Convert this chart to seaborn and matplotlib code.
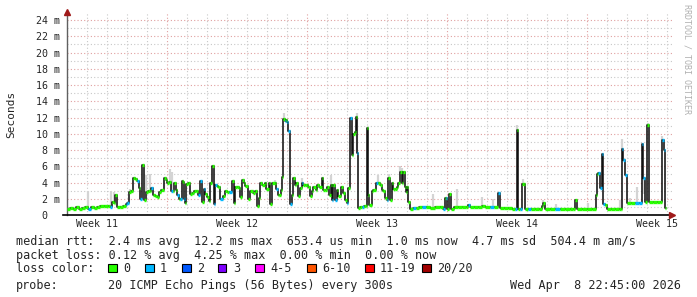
import numpy as np
import pandas as pd
import matplotlib
matplotlib.use("Agg")
import matplotlib.pyplot as plt
from matplotlib.patches import Rectangle
import seaborn as sns

# ---------------- data ----------------
# time in days since graph start, median rtt in ms
t_days = [
    0.00, 0.15, 0.30, 0.45, 0.60, 0.75, 0.90, 1.05, 1.20, 1.35, 1.50, 1.65, 1.85, 2.05, 2.15, 2.25, 2.35, 2.40, 2.50, 2.65, 2.80, 2.95, 3.00,
    3.10, 3.20, 3.30, 3.40, 3.50, 3.60, 3.65, 3.75, 3.85, 3.95, 4.05, 4.15, 4.20, 4.30, 4.40, 4.50, 4.60, 4.70, 4.85, 4.95, 5.00,
    5.10, 5.20, 5.30, 5.35, 5.45, 5.50, 5.60, 5.65, 5.75, 5.80, 5.85, 5.90, 5.95, 6.05, 6.15, 6.25, 6.35, 6.45, 6.55, 6.65, 6.75, 6.85, 6.90, 7.00,
    7.10, 7.15, 7.25, 7.35, 7.40, 7.50, 7.55, 7.65, 7.80, 7.90, 8.00, 8.10, 8.25, 8.35, 8.40, 8.50, 8.60, 8.65, 8.75, 8.85, 8.90,
    9.05, 9.15, 9.30, 9.40, 9.50, 9.60, 9.65, 9.75, 9.90, 9.95, 10.10, 10.15, 10.25, 10.40, 10.45, 10.55, 10.60, 10.70, 10.75, 10.80, 10.90, 10.95, 11.00, 11.05,
    11.15, 11.25, 11.30, 11.40, 11.45, 11.55, 11.65, 11.75, 11.80, 11.90, 12.00, 12.05, 12.15, 12.25, 12.30, 12.45, 12.50, 12.60, 12.75, 12.80, 12.90, 13.00,
    13.10, 13.20, 13.25, 13.30, 13.40, 13.50, 13.55, 13.70, 13.80, 13.90, 14.00, 14.05, 14.15, 14.25, 14.30, 14.40, 14.45, 14.50, 14.55, 14.65, 14.75, 14.85, 14.95, 15.00,
    15.05, 15.10, 15.25, 15.30, 15.45, 15.55, 15.65, 15.75, 15.80, 15.90, 16.00, 16.05, 16.15, 16.25, 16.30, 16.40, 16.50, 16.55, 16.65, 16.75, 16.80, 16.90, 16.95, 17.00,
    17.05, 17.15, 17.30, 17.45, 17.60, 17.75, 17.95, 18.15, 18.40, 18.65, 18.80, 18.90, 18.95, 19.00, 19.10, 19.20, 19.35, 19.55, 19.75, 19.95, 20.05, 20.15, 20.35, 20.55, 20.75, 20.90, 21.15, 21.35, 21.55, 21.65,
    21.85, 22.05, 22.25, 22.40, 22.50, 22.55, 22.65, 22.75, 22.85, 22.90, 23.05, 23.20, 23.40, 23.60, 23.75, 23.80, 23.90, 24.15, 24.40, 24.65, 24.90, 25.15, 25.30, 25.40, 25.50, 25.75, 26.00,
    26.25, 26.45, 26.50, 26.55, 26.65, 26.75, 26.80, 26.90, 27.00, 27.20, 27.40, 27.60, 27.70, 27.75, 27.80, 27.90, 28.00, 28.20, 28.40, 28.60, 28.75, 28.80, 28.90, 29.00, 29.10, 29.30, 29.50, 29.65, 29.75, 29.85, 29.90,
]
rtt_ms = [
    0.8, 0.9, 0.8, 1.0, 0.8, 0.9, 1.0, 0.8, 1.0, 0.9, 1.0, 1.1, 1.1, 1.1, 1.0, 1.6, 1.5, 2.5, 1.0, 1.0, 1.1, 1.3, 1.5,
    2.8, 2.9, 4.6, 4.4, 4.2, 3.3, 2.0, 6.2, 1.85, 2.8, 3.0, 2.9, 3.3, 2.5, 2.3, 2.2, 2.8, 3.1, 4.5, 4.3, 3.9,
    4.1, 2.9, 3.0, 3.9, 3.1, 2.5, 2.0, 2.0, 4.2, 4.1, 2.0, 1.5, 3.8, 4.0, 2.6, 2.7, 3.0, 3.0, 2.5, 4.2, 1.6, 3.2, 2.6, 2.2,
    1.7, 3.9, 6.0, 1.4, 3.7, 3.6, 3.5, 2.0, 2.3, 3.0, 2.8, 2.8, 4.2, 1.5, 3.4, 3.4, 3.3, 2.2, 4.3, 4.0, 3.6,
    2.0, 3.0, 2.7, 2.9, 1.1, 2.1, 3.9, 3.7, 3.9, 3.2, 3.9, 1.4, 3.9, 3.9, 3.2, 2.5, 2.5, 3.1, 4.7, 11.8, 11.6, 11.7, 11.5, 10.3,
    1.4, 2.5, 4.5, 3.7, 4.0, 2.3, 3.3, 3.9, 3.7, 3.7, 3.7, 3.5, 2.3, 2.9, 3.5, 3.1, 3.7, 3.5, 4.5, 3.1, 3.1, 3.4,
    2.5, 3.7, 1.9, 3.7, 1.9, 3.1, 2.3, 3.4, 2.7, 1.8, 1.5, 3.3, 11.9, 7.4, 10.0, 10.2, 12.1, 7.6, 0.85, 1.0, 1.0, 1.05, 1.05, 10.7,
    2.5, 1.2, 2.9, 3.1, 4.0, 3.9, 3.7, 3.1, 2.9, 2.1, 1.9, 4.5, 1.9, 3.9, 3.2, 3.2, 3.4, 3.9, 5.3, 3.9, 5.3, 3.5, 2.8, 3.4,
    1.6, 0.8, 0.9, 0.9, 1.0, 1.0, 1.0, 0.9, 1.0, 1.0, 0.8, 2.05, 2.05, 0.7, 2.6, 0.8, 1.0, 1.0, 1.0, 1.0, 1.2, 1.0, 1.0, 1.0, 1.1, 1.0, 1.0, 1.0, 2.7, 0.9,
    0.9, 0.9, 0.8, 0.8, 10.5, 0.8, 0.7, 3.8, 3.8, 0.8, 0.8, 0.8, 0.8, 0.8, 1.1, 1.5, 0.8, 0.8, 0.8, 0.8, 0.8, 0.8, 0.8, 1.9, 0.8, 0.8, 0.8,
    0.8, 2.5, 5.1, 5.2, 3.3, 7.5, 1.3, 1.2, 0.7, 0.7, 0.7, 0.7, 0.8, 8.1, 6.8, 4.9, 1.5, 1.5, 1.5, 1.5, 8.8, 4.5, 1.6, 11.1, 1.6, 1.6, 1.6, 1.6, 9.2, 8.0, 0.9,
]
# times (days) where one of the 20 pings was lost
loss1_days = [1.05, 2.15, 2.95, 3.00, 3.50, 3.65, 4.20, 5.20, 5.50, 5.65, 5.85, 6.55, 6.65,
              6.85, 7.35, 7.40, 7.65, 8.10, 10.45, 10.90, 11.00, 11.05, 11.15, 11.75, 13.25,
              13.40, 14.00, 14.15, 14.50, 14.75, 15.45, 16.00, 17.30, 17.75, 18.80, 18.95,
              20.05, 21.15, 21.55, 22.40, 22.65, 23.05, 24.40, 26.55, 26.65, 26.75, 26.80,
              27.75, 27.80, 27.90, 28.40, 28.60, 28.75, 28.80, 29.75, 29.85]
# "smoke" (spread of the pings) – visible upper ends
smoke_days = [1.05, 2.20, 2.35, 3.15, 3.95, 4.15, 5.15, 5.25, 10.40, 10.85, 11.75, 13.20,
              14.50, 15.55, 16.10, 16.65, 16.75, 18.30, 19.50, 20.75, 21.30, 22.50, 22.80,
              23.80, 24.45, 26.05, 27.65, 27.75, 28.15, 28.50, 28.85, 29.05, 29.75]
smoke_top_ms = [2.9, 3.0, 2.8, 3.2, 4.9, 5.0, 5.7, 5.3, 4.3, 12.6, 4.6, 4.9,
                12.6, 4.9, 5.0, 6.0, 5.8, 2.6, 3.2, 2.2, 2.0, 11.1, 4.4,
                1.9, 1.4, 1.5, 1.8, 9.4, 2.1, 3.4, 2.6, 11.3, 9.7]
t_end = 29.95

week_pos = [1.5, 8.5, 15.5, 22.5, 29.5]
week_labels = ["Week 11", "Week 12", "Week 13", "Week 14", "Week 15"]
week_starts = [5, 12, 19, 26]
ytick_vals = list(range(0, 25, 2))
ytick_labels = ["0  "] + [f"{v} m" for v in range(2, 25, 2)]

loss_labels = ["0", "1", "2", "3", "4-5", "6-10", "11-19", "20/20"]
loss_colors = ["#26ff00", "#00b8ff", "#0059ff", "#7e00ff", "#ff00ff", "#ff5500", "#ff0000", "#a10000"]

assert len(t_days) == len(rtt_ms)
assert len(smoke_days) == len(smoke_top_ms)

# ---------------- drawing ----------------
sns.set_style("white")
plt.rcParams["font.family"] = ["DejaVu Sans Mono"]

W, H = 697, 297
fig = plt.figure(figsize=(W / 100, H / 100), dpi=100)
fig.patch.set_facecolor("white")
ax = fig.add_axes([67 / W, (H - 215) / H, 605 / W, 203 / H])
ax.set_facecolor("white")
ax.set_xlim(0, 30.25)
ax.set_ylim(0, 25)

t = np.array(t_days)
v = np.array(rtt_ms)
t_next = np.append(t[1:], t_end)

# grid
minor_col = "#c8c8c8"
major_col = "#e0a0a0"
dot = (0, (1, 2))
for d in range(1, 31):
    if d in week_starts:
        continue
    ax.axvline(d, color=minor_col, lw=0.8, ls=dot, zorder=0)
for d in week_starts:
    ax.axvline(d, color=major_col, lw=0.8, ls=dot, zorder=0)
for y in range(1, 25, 2):
    ax.axhline(y, color=minor_col, lw=0.8, ls=dot, zorder=0)
for y in range(2, 25, 2):
    ax.axhline(y, color=major_col, lw=0.8, ls=dot, zorder=0)

# smoke
idx = np.searchsorted(t, np.array(smoke_days), side="right") - 1
smoke_bottom = v[idx]
ax.vlines(smoke_days, smoke_bottom, smoke_top_ms, color="#d4d4d4", lw=1.6, zorder=1)

# median: black connectors
df = pd.DataFrame({"t": np.append(t, t_end), "rtt": np.append(v, v[-1])})
sns.lineplot(data=df, x="t", y="rtt", drawstyle="steps-post", color="#111111",
             lw=1.15, ax=ax, estimator=None, zorder=2)

# median: coloured by loss
loss = np.zeros(len(t), dtype=int)
for d in loss1_days:
    loss[np.isclose(t, d)] = 1
seg_colors = [loss_colors[l] for l in loss]
ax.hlines(v, t, t_next, colors=seg_colors, lw=2.4, zorder=3, capstyle="butt")

# axes styling
for s in ["top", "right"]:
    ax.spines[s].set_visible(False)
ax.spines["left"].set_color("#606060")
ax.spines["left"].set_linewidth(1.0)
ax.spines["bottom"].set_color("black")
ax.spines["bottom"].set_linewidth(1.2)
ax.spines["bottom"].set_bounds(-0.2, 30.25)
ax.set_xlabel("")
ax.set_ylabel("")

ax.set_xticks(week_pos)
ax.set_xticklabels(week_labels, fontsize=7.2)
ax.set_yticks(ytick_vals)
ax.set_yticklabels(ytick_labels, fontsize=7.2)
ax.tick_params(axis="x", length=0, pad=3)
ax.tick_params(axis="y", length=0, pad=5)

ax.plot([0], [1], marker="^", ms=5, color="#a01a1a", transform=ax.transAxes, clip_on=False, zorder=5)
ax.plot([1], [0], marker=">", ms=5, color="#a01a1a", transform=ax.transAxes, clip_on=False, zorder=5)

fig.text(11 / W, 1 - 114 / H, "Seconds", rotation=90, ha="center", va="center", fontsize=8)
fig.text(687 / W, 1 - 59 / H, "RRDTOOL / TOBI OETIKER", rotation=270, ha="center", va="center",
         fontsize=6.0, color="#b0b0b0")

fs = 8.5
x0 = 16 / W
fig.text(x0, 1 - 241 / H,
         "median rtt:  2.4 ms avg  12.2 ms max  653.4 us min  1.0 ms now  4.7 ms sd  504.4 m am/s",
         fontsize=fs, va="center", ha="left")
fig.text(x0, 1 - 256 / H,
         "packet loss: 0.12 % avg  4.25 % max  0.00 % min  0.00 % now",
         fontsize=fs, va="center", ha="left")
fig.text(x0, 1 - 268 / H, "loss color:", fontsize=fs, va="center", ha="left")
box_x = [108, 145, 182, 218, 255, 307, 365, 422]
for bx, lab, col in zip(box_x, loss_labels, loss_colors):
    fig.patches.append(Rectangle((bx / W, 1 - 272 / H), 8.5 / W, 8.5 / H, transform=fig.transFigure,
                                 facecolor=col, edgecolor="black", lw=0.8))
    fig.text((bx + 15) / W, 1 - 268 / H, lab, fontsize=fs, va="center", ha="left")
fig.text(x0, 1 - 285 / H, "probe:", fontsize=fs, va="center", ha="left")
fig.text(108 / W, 1 - 285 / H, "20 ICMP Echo Pings (56 Bytes) every 300s", fontsize=fs, va="center", ha="left")
fig.text(681 / W, 1 - 285 / H, "Wed Apr  8 22:45:00 2026", fontsize=fs, va="center", ha="right")

fig.savefig("out.png", dpi=100, facecolor="white")
